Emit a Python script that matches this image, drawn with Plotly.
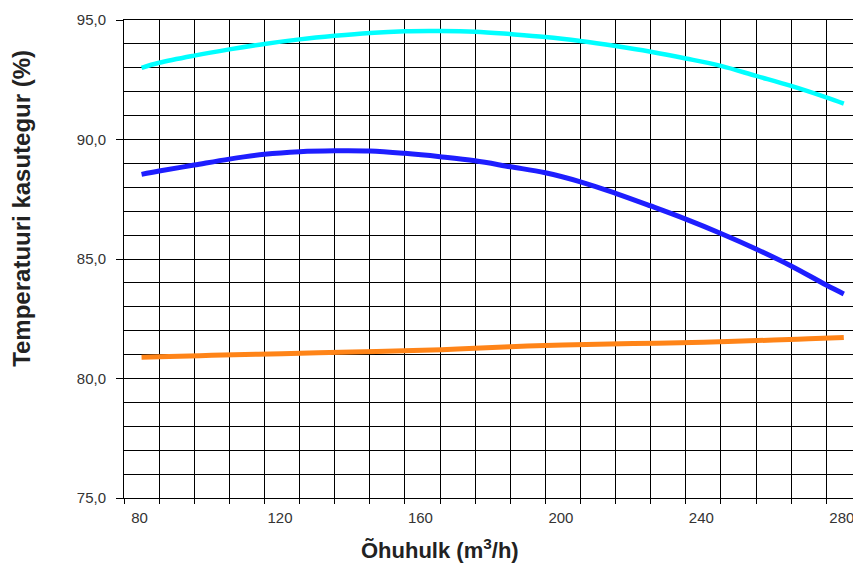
import plotly.graph_objects as go

# Air flow (m3/h) sample points
x_curve = [80, 85, 95, 105, 115, 125, 135, 145, 155, 165, 175,
           185, 195, 205, 215, 225, 235, 245, 255, 265, 275, 280]
cyan_vals = [93.00, 93.21, 93.51, 93.77, 94.00, 94.19, 94.34, 94.46, 94.53, 94.54, 94.51,
             94.41, 94.29, 94.12, 93.91, 93.67, 93.39, 93.08, 92.66, 92.24, 91.76, 91.50]
blue_vals = [88.54, 88.68, 88.93, 89.18, 89.38, 89.49, 89.53, 89.52, 89.42, 89.28, 89.11,
             88.86, 88.61, 88.23, 87.75, 87.22, 86.67, 86.07, 85.42, 84.71, 83.91, 83.54]

x_orange = [80, 85, 100, 120, 140, 160, 170, 185, 200, 220, 240, 260, 270, 280]
orange_vals = [80.89, 80.91, 80.97, 81.04, 81.11, 81.18, 81.23, 81.33, 81.40, 81.46,
               81.52, 81.61, 81.66, 81.72]

x_tick_vals = [80, 120, 160, 200, 240, 280]
x_tick_text = ["80", "120", "160", "200", "240", "280"]
y_tick_vals = [75, 80, 85, 90, 95]
y_tick_text = ["75,0", "80,0", "85,0", "90,0", "95,0"]

fig = go.Figure()
fig.add_trace(go.Scatter(x=x_curve, y=cyan_vals, mode="lines",
                         line=dict(color="#00FFFF", width=4.5, shape="spline"),
                         name="cyan"))
fig.add_trace(go.Scatter(x=x_curve, y=blue_vals, mode="lines",
                         line=dict(color="#1E1EFF", width=5, shape="spline"),
                         name="blue"))
fig.add_trace(go.Scatter(x=x_orange, y=orange_vals, mode="lines",
                         line=dict(color="#FF8418", width=5, shape="spline"),
                         name="orange"))

font_family = "Liberation Sans, Arial, sans-serif"

fig.update_layout(
    width=853, height=556,
    margin=dict(l=116, r=0, t=12, b=66),
    plot_bgcolor="white", paper_bgcolor="white",
    showlegend=False,
    font=dict(family=font_family, color="#333333", size=15),
    xaxis=dict(
        range=[75, 284.9],
        tickmode="array", tickvals=x_tick_vals, ticktext=x_tick_text,
        ticks="outside", ticklen=6, tickcolor="rgba(0,0,0,0)",
        ticklabelshift=-2,
        showgrid=False, zeroline=False,
        showline=True, linecolor="black", linewidth=1, mirror=True,
        tickfont=dict(size=15, color="#333333"),
        minor=dict(tick0=75, dtick=10, showgrid=True, gridcolor="black",
                   gridwidth=1, ticks="outside", ticklen=5, tickcolor="black"),
    ),
    yaxis=dict(
        range=[75, 95],
        tickmode="array", tickvals=y_tick_vals, ticktext=y_tick_text,
        ticks="outside", ticklen=7, tickcolor="black",
        showgrid=True, gridcolor="black", gridwidth=1, zeroline=False,
        showline=True, linecolor="black", linewidth=1,
        tickfont=dict(size=15, color="#333333"),
        ticklabelstandoff=7,
        minor=dict(tick0=75, dtick=1, showgrid=True, gridcolor="black",
                   gridwidth=1, ticks=""),
    ),
    annotations=[
        dict(text="<b>Õhuhulk (m<sup>3</sup>/h)</b>", xref="paper", yref="paper",
             x=0.4288, y=-0.1067, xanchor="center", yanchor="middle",
             showarrow=False, font=dict(size=22, color="#222222", family=font_family)),
        dict(text="<b>Temperatuuri kasutegur (%)</b>", xref="paper", yref="paper",
             x=-0.1384, y=0.607, xanchor="center", yanchor="middle", textangle=-90,
             showarrow=False, font=dict(size=24, color="#222222", family=font_family)),
    ],
)

fig.write_html("out.html")
